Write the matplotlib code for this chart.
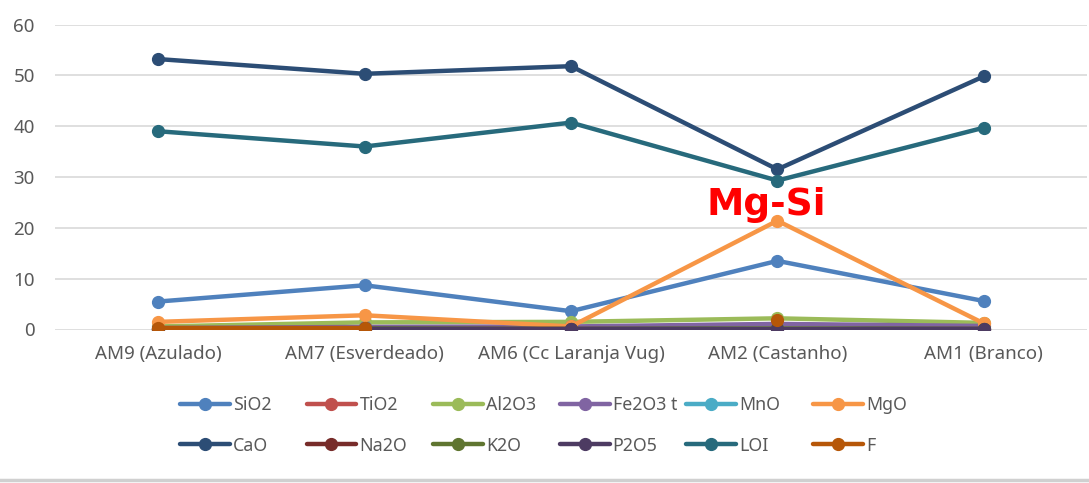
import numpy as np
import matplotlib
matplotlib.use("Agg")
import matplotlib.pyplot as plt
from matplotlib.lines import Line2D

categories = ["AM9 (Azulado)", "AM7 (Esverdeado)", "AM6 (Cc Laranja Vug)", "AM2 (Castanho)", "AM1 (Branco)"]

SiO2 = [5.5, 8.7, 3.6, 13.5, 5.6]
TiO2 = [0.05, 0.05, 0.03, 0.1, 0.05]
Al2O3 = [0.6, 1.4, 1.5, 2.2, 1.3]
Fe2O3t = [0.3, 0.5, 0.6, 1.1, 0.7]
MnO = [0.05, 0.05, 0.05, 0.1, 0.05]
MgO = [1.5, 2.8, 0.6, 21.4, 1.2]
CaO = [53.2, 50.3, 51.8, 31.5, 49.8]
Na2O = [0.1, 0.1, 0.1, 0.1, 0.1]
K2O = [0.1, 0.2, 0.1, 0.2, 0.1]
P2O5 = [0.05, 0.05, 0.05, 0.05, 0.05]
LOI = [39.0, 36.0, 40.7, 29.3, 39.7]
F = [0.3, 0.3, np.nan, 1.9, np.nan]

series = [
    ("SiO2", SiO2, "#4F81BD"),
    ("TiO2", TiO2, "#C0504D"),
    ("Al2O3", Al2O3, "#9BBB59"),
    ("Fe2O3 t", Fe2O3t, "#8064A2"),
    ("MnO", MnO, "#4BACC6"),
    ("MgO", MgO, "#F79646"),
    ("CaO", CaO, "#2C4D75"),
    ("Na2O", Na2O, "#772C2A"),
    ("K2O", K2O, "#5F7530"),
    ("P2O5", P2O5, "#4D3B62"),
    ("LOI", LOI, "#276A7C"),
    ("F", F, "#B65708"),
]

plt.rcParams['font.family'] = ['Noto Sans', 'DejaVu Sans']

W, H = 1089, 483
fig = plt.figure(figsize=(W / 100, H / 100), dpi=100)
ax = fig.add_axes([55 / W, 1 - 329.5 / H, 1032 / W, 305 / H])

x = np.arange(len(categories))
handles = []
for i, (name, vals, col) in enumerate(series):
    h, = ax.plot(x, vals, color=col, lw=3.2, marker='o', markersize=8.5,
                 solid_capstyle='round', label=name, zorder=3 + i)
    handles.append(h)

ax.set_xlim(-0.5, len(categories) - 0.5)
ax.set_ylim(0, 60)
ax.set_yticks(np.arange(0, 61, 10))
ax.set_xticks(x)
ax.set_xticklabels(categories)
ax.grid(axis='y', color='#D9D9D9', lw=1.2, zorder=0)
ax.set_axisbelow(True)
for s in ax.spines.values():
    s.set_visible(False)
ax.tick_params(axis='both', length=0, labelsize=13.5, labelcolor='#595959')
ax.tick_params(axis='y', pad=14.5)
ax.tick_params(axis='x', pad=11)

ax.text(2.944, 22.5, "Mg-Si", color='#FF0000', fontsize=27, fontweight='bold',
        ha='center', va='baseline', family=['DejaVu Sans'], zorder=20)

# legend: 6 evenly spaced columns, two rows
col_starts = [180, 306.6, 433.2, 559.8, 686.4, 813]
for c, xs in enumerate(col_starts):
    hs = [handles[c], handles[c + 6]]
    labs = [series[c][0], series[c + 6][0]]
    leg = fig.legend(hs, labs, ncol=1, loc='center left',
                     bbox_to_anchor=(xs / W, 1 - 425.5 / H),
                     frameon=False, fontsize=12.8, handlelength=2.8,
                     handletextpad=0.17, labelspacing=1.25,
                     borderpad=0, borderaxespad=0)
    for t in leg.get_texts():
        t.set_color('#595959')

fig.add_artist(Line2D([0, 1], [1 - 479.5 / H, 1 - 479.5 / H], color='#D0D0D0', lw=2.5,
                      transform=fig.transFigure))

fig.savefig("out.png", dpi=100, facecolor='white')
